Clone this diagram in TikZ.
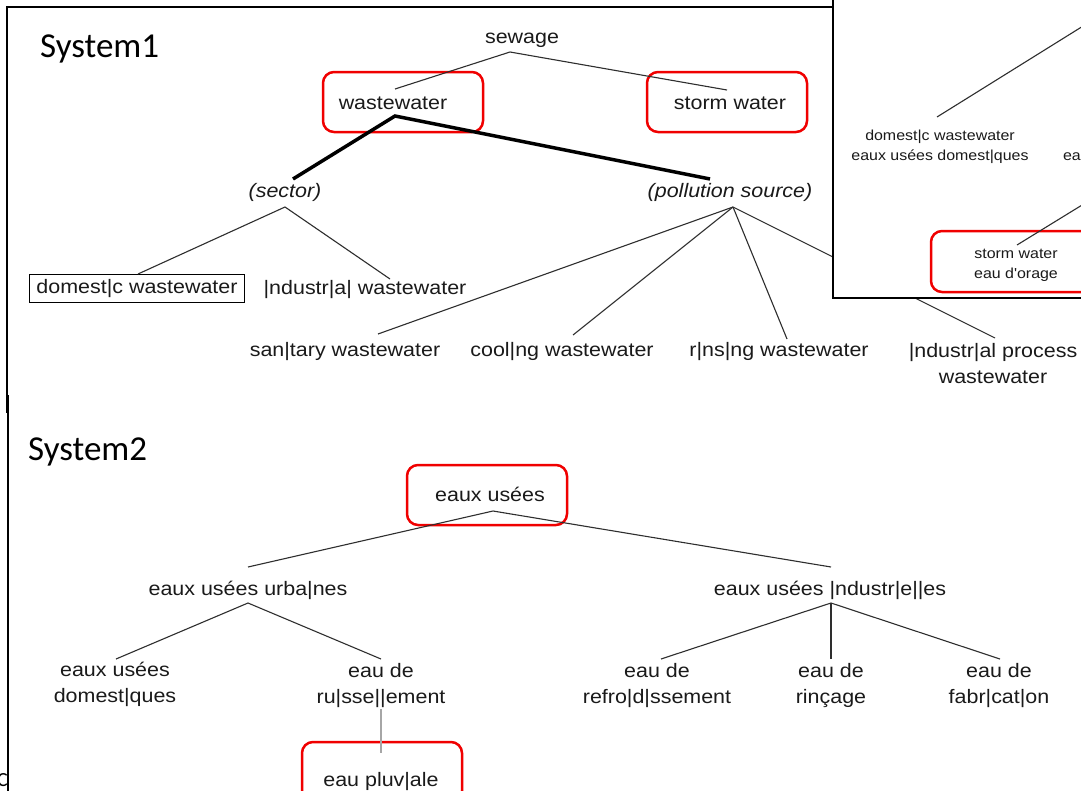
\documentclass[tikz,border=0pt]{standalone}
\usepackage{fontspec}
\newfontfamily\arialf[FakeStretch=1.1]{Liberation Sans}
\newfontfamily\calib{Carlito}
\definecolor{txtc}{HTML}{1A1A1A}
\definecolor{redb}{HTML}{F00000}
\definecolor{linec}{HTML}{2E2E2E}
\begin{document}
\begin{tikzpicture}[x=1pt,y=-1pt,
  lab/.style={font=\arialf\fontsize{19.5}{26}\selectfont, text=txtc, inner sep=0pt, outer sep=3pt, text height=14pt, text depth=4pt, anchor=base},
  ilab/.style={lab, font=\arialf\itshape\fontsize{19.5}{26}\selectfont},
  mlab/.style={font=\arialf\fontsize{19.5}{26}\selectfont, text=txtc, inner sep=0pt, outer sep=3pt, align=center, anchor=north},
  slab/.style={font=\arialf\fontsize{14.5}{20}\selectfont, text=txtc, inner sep=0pt, outer sep=3pt, align=center, anchor=north},
  title/.style={font=\calib\fontsize{35}{40}\selectfont, text=black, inner sep=0pt, anchor=base west},
  redbox/.style={draw=redb, line width=2.5pt, rounded corners=11pt, inner sep=0pt},
  conn/.style={draw=linec, line width=1.1pt},
  heavy/.style={draw=black, line width=3.5pt},
  frame/.style={draw=black, line width=2pt},
  graycon/.style={draw=gray!70, line width=2pt}
]
\useasboundingbox (0,0) rectangle (1081,790);
\fill[white] (0,0) rectangle (1081,790);

% ---------- frames ----------
\draw[frame] (833,7) -- (7,7) -- (7,413);
\draw[frame] (8,395) -- (8,800);

% ---------- System 1 ----------
\node[title] (t1) at (40,57) {System1};
\node[lab] (sewage) at (522,43) {sewage};
\node[lab] (ww) at (393,109) {wastewater};
\node[redbox, minimum width=160pt, minimum height=60pt] (wwbox) at (403,102) {};
\node[lab] (sw) at (730,109) {storm water};
\node[redbox, minimum width=160pt, minimum height=60pt] (swbox) at (727,102) {};
\node[ilab] (sector) at (285,197) {(sector)};
\node[ilab] (ps) at (730,197) {(pollution source)};
\node[draw=black, line width=1pt, minimum width=215pt, minimum height=28pt, inner sep=0pt, outer sep=0pt,
      font=\arialf\fontsize{19.5}{26}\selectfont, text=txtc, text height=14pt, text depth=4pt] (dom) at (137,288) {domest|c wastewater};
\node[lab] (ind) at (365,294) {|ndustr|a| wastewater};
\node[lab] (san) at (345,356) {san|tary wastewater};
\node[lab] (cool) at (562,356) {cool|ng wastewater};
\node[lab] (rins) at (779,356) {r|ns|ng wastewater};
\node[mlab] (ipw) at (993,340) {|ndustr|al process\\wastewater};

\draw[conn] ([xshift=2pt,yshift=3pt]ww.north) -- ([xshift=-12pt,yshift=-2pt]sewage.south) -- ([xshift=-3pt,yshift=2pt]sw.north);
\draw[heavy] ([xshift=8pt,yshift=1pt]sector.north) -- ([xshift=2pt]ww.south) -- ([xshift=-20pt,yshift=1pt]ps.north);
\draw[conn] ([xshift=1pt]dom.north) -- ([yshift=-3pt]sector.south) -- ([xshift=25pt,yshift=-2pt]ind.north);
\coordinate (psa) at ([xshift=3pt,yshift=-3pt]ps.south);
\draw[conn] (psa) -- ([xshift=33pt,yshift=5pt]san.north);
\draw[conn] (psa) -- ([xshift=11pt,yshift=4pt]cool.north);
\draw[conn] (psa) -- ([xshift=8pt]rins.north);
\draw[conn] (psa) -- ([xshift=2pt,yshift=2pt]ipw.north);

% ---------- inset ----------
\node[draw=black, fill=white, line width=2pt, inner sep=0pt, minimum width=260pt, minimum height=310pt] (inset) at (963,143) {};
\node[slab] (dwi) at (940,127) {domest|c wastewater\\eaux usées domest|ques};
\node[slab, anchor=base west] (eaui) at (1060,160) {eau};
\node[slab] (swi) at (1016,246) {storm water\\eau d'orage};
\node[redbox, minimum width=180pt, minimum height=61pt] (swibox) at (1021,261.5) {};
\coordinate (offA) at (1100,15.5);
\coordinate (offB) at (1100,194);
\draw[conn] ([xshift=-3pt,yshift=10pt]dwi.north) -- (offA);
\draw[conn] ([xshift=1pt,yshift=1pt]swi.north) -- (offB);

% ---------- System 2 ----------
\node[title] (t2) at (28,460) {System2};
\node[lab] (eu) at (490,501) {eaux usées};
\node[redbox, minimum width=160pt, minimum height=60pt] (eubox) at (487,495) {};
\node[lab] (urb) at (248,595) {eaux usées urba|nes};
\node[lab] (indu) at (830,595) {eaux usées |ndustr|e||es};
\node[mlab] (dq) at (115,659) {eaux usées\\domest|ques};
\node[mlab] (rui) at (381,660) {eau de\\ru|sse||ement};
\node[mlab] (refr) at (657,660) {eau de\\refro|d|ssement};
\node[mlab] (rin) at (831,660) {eau de\\rinçage};
\node[mlab] (fab) at (999,660) {eau de\\fabr|cat|on};
\node[lab] (plu) at (381,786) {eau pluv|ale};
\node[redbox, minimum width=160pt, minimum height=60pt] (plubox) at (382,772) {};

\draw[conn] ([yshift=11pt]urb.north) -- ([xshift=3pt,yshift=-3pt]eu.south) -- ([xshift=1pt,yshift=11pt]indu.north);
\draw[conn] ([xshift=1pt]dq.north) -- ([yshift=-1pt]urb.south) -- ([yshift=1pt]rui.north);
\coordinate (ia) at ([xshift=1pt,yshift=-1pt]indu.south);
\draw[conn] (ia) -- ([xshift=4pt,yshift=1pt]refr.north);
\draw[conn] (ia) -- ([yshift=1pt]rin.north);
\draw[conn] (ia) -- ([xshift=1pt,yshift=1pt]fab.north);
\draw[graycon] ([yshift=1pt]rui.south) -- ([yshift=16pt]plu.north);

% fragment at bottom left
\node[font=\calib\fontsize{20}{24}\selectfont, inner sep=0pt, anchor=base west] (cfrag) at (-3,786) {C};
\end{tikzpicture}
\end{document}
